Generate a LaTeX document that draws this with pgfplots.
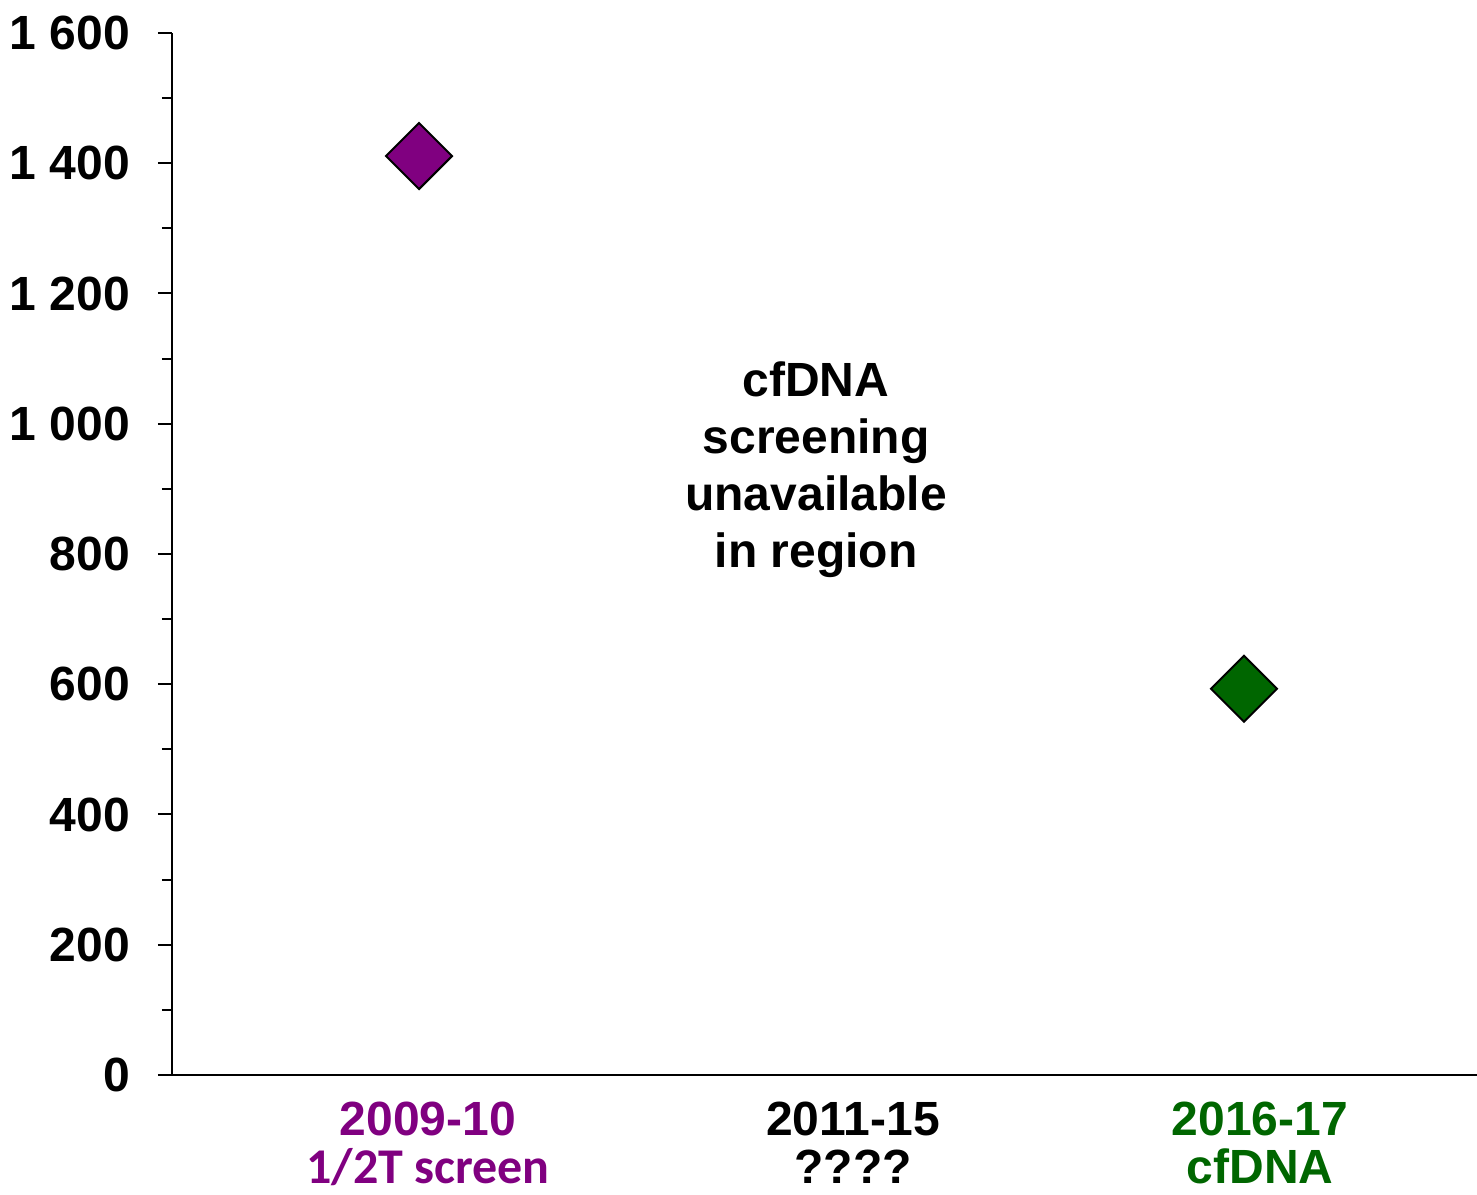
\documentclass[border=0pt]{standalone}
\usepackage{pgfplots}
\pgfplotsset{compat=1.18}
\usepackage{fontspec}
\setmainfont{Liberation Sans}
\newfontfamily\calibri{Carlito}
\definecolor{purp}{HTML}{800080}
\definecolor{dgreen}{HTML}{006600}
\begin{document}
\begin{tikzpicture}[x=0.5pt,y=0.5pt]
\path[use as bounding box] (-172,-119) rectangle (1305,1075);
\begin{axis}[
  at={(0pt,0pt)}, anchor=south west,
  scale only axis,
  width=652.5pt, height=521pt,
  xmin=0, xmax=1305, ymin=0, ymax=1600,
  axis x line*=bottom, axis y line*=left,
  axis line style={line width=1pt, -},
  every tick/.style={line width=1pt, black},
  ytick={0,200,...,1600},
  minor ytick={100,300,...,1500},
  tick align=outside,
  major tick length=7pt, minor tick length=5pt,
  xtick={256,681,1088},
  xtick style={draw=none},
  xticklabels={
    {\textcolor{purp}{2009-10}\\[-2pt]\textcolor{purp}{\calibri\fontsize{25}{25}\selectfont 1/2T screen}},
    {2011-15\\[-2pt]????},
    {\textcolor{dgreen}{2016-17}\\[-2pt]\textcolor{dgreen}{cfDNA}}},
  xticklabel style={align=center, font=\fontsize{24}{26}\selectfont\bfseries, yshift=-3pt},
  yticklabel style={font=\fontsize{24}{26}\selectfont\bfseries, xshift=-10.5pt},
  /pgf/number format/assume math mode=true,
  /pgf/number format/1000 sep={\ },
  clip=false,
]
\addplot[only marks, mark=square*, mark size=11.67pt, mark options={rotate=45, fill=purp, draw=black, line width=1pt}]
  coordinates {(247,1411)};
\addplot[only marks, mark=square*, mark size=11.67pt, mark options={rotate=45, fill=dgreen, draw=black, line width=1pt}]
  coordinates {(1072,593)};
\node[align=center, font=\fontsize{24}{28.5}\selectfont\bfseries] at (axis cs:644,929)
  {cfDNA\\screening\\unavailable\\in region};
\end{axis}
\end{tikzpicture}
\end{document}
